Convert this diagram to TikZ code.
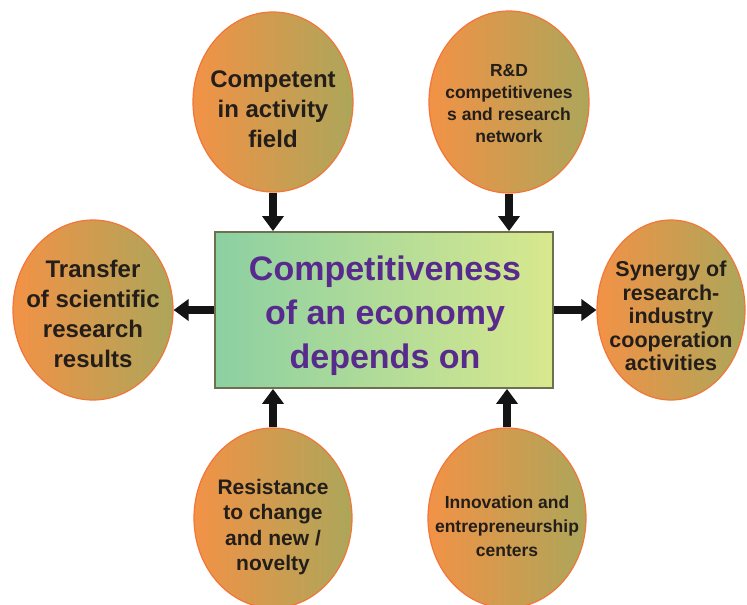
\documentclass[tikz,border=0pt]{standalone}
\usepackage{fontspec}
\setmainfont{Liberation Sans}
\usetikzlibrary{shapes.geometric,arrows.meta}
\definecolor{ellL}{RGB}{242,146,70}
\definecolor{ellR}{RGB}{172,166,90}
\definecolor{ellB}{RGB}{242,118,58}
\definecolor{rectL}{RGB}{140,208,162}
\definecolor{rectR}{RGB}{216,232,142}
\definecolor{rectB}{RGB}{110,112,80}
\definecolor{purp}{RGB}{88,42,142}
\definecolor{txt}{RGB}{35,30,25}
\definecolor{arr}{RGB}{20,20,20}
\begin{document}
\begin{tikzpicture}[x=1pt,y=-1pt,
  bubble/.style={ellipse, draw=ellB, line width=1.2pt, left color=ellL, right color=ellR, inner sep=0pt},
  btext/.style={align=center, text=txt, inner sep=0pt},
  centerbox/.style={rectangle, draw=rectB, line width=1.8pt, left color=rectL, right color=rectR, minimum width=338pt, minimum height=156pt, align=center, text=purp, font=\bfseries\fontsize{34}{44}\selectfont},
  bigarrow/.style={draw=arr, line width=8pt, -{Triangle[width=21pt,length=15pt]}}
]
\useasboundingbox (0,0) rectangle (747,605);
\clip (0,0) rectangle (747,605);
\fill[white] (0,0) rectangle (747,605);

\node[centerbox] (c) at (384,310) {};
\node[align=center, text=purp, font=\bfseries\fontsize{34}{44}\selectfont, inner sep=0pt] (ct) at (385,316) {Competitiveness\\of an economy\\depends on};

\node[bubble, minimum width=160pt, minimum height=180pt] (tl) at (273,102) {};
\node[btext, font=\bfseries\fontsize{24}{30}\selectfont] (tlt) at (273,109) {Competent\\in activity\\field};

\node[bubble, minimum width=160pt, minimum height=182pt] (tr) at (509,102) {};
\node[btext, font=\bfseries\fontsize{17.5}{22}\selectfont] (trt) at (509,104) {R\&D\\competitivenes\\s and research\\network};

\node[bubble, minimum width=160pt, minimum height=180pt] (l) at (93,310) {};
\node[btext, font=\bfseries\fontsize{24}{30}\selectfont] (lt) at (93,314) {Transfer\\of scientific\\research\\results};

\node[bubble, minimum width=148pt, minimum height=180pt] (r) at (671,310) {};
\node[btext, font=\bfseries\fontsize{21.5}{23.5}\selectfont] (rt) at (671,316) {Synergy of\\research-\\industry\\cooperation\\activities};

\node[bubble, minimum width=158pt, minimum height=180pt] (bl) at (273,518) {};
\node[btext, font=\bfseries\fontsize{21}{25.5}\selectfont] (blt) at (273,527) {Resistance\\to change\\and new /\\novelty};

\node[bubble, minimum width=158pt, minimum height=180pt] (br) at (507,518) {};
\node[btext, font=\bfseries\fontsize{17.5}{24}\selectfont] (brt) at (507,526) {Innovation and\\entrepreneurship\\centers};

\draw[bigarrow] (tl.south) -- (tl.south |- c.north);
\draw[bigarrow] (tr.south) -- (tr.south |- c.north);
\draw[bigarrow] (bl.north) -- (bl.north |- c.south);
\draw[bigarrow] (br.north) -- (br.north |- c.south);
\draw[bigarrow] (c.west) -- (c.west -| l.east);
\draw[bigarrow] (c.east) -- (c.east -| r.west);
\end{tikzpicture}
\end{document}
